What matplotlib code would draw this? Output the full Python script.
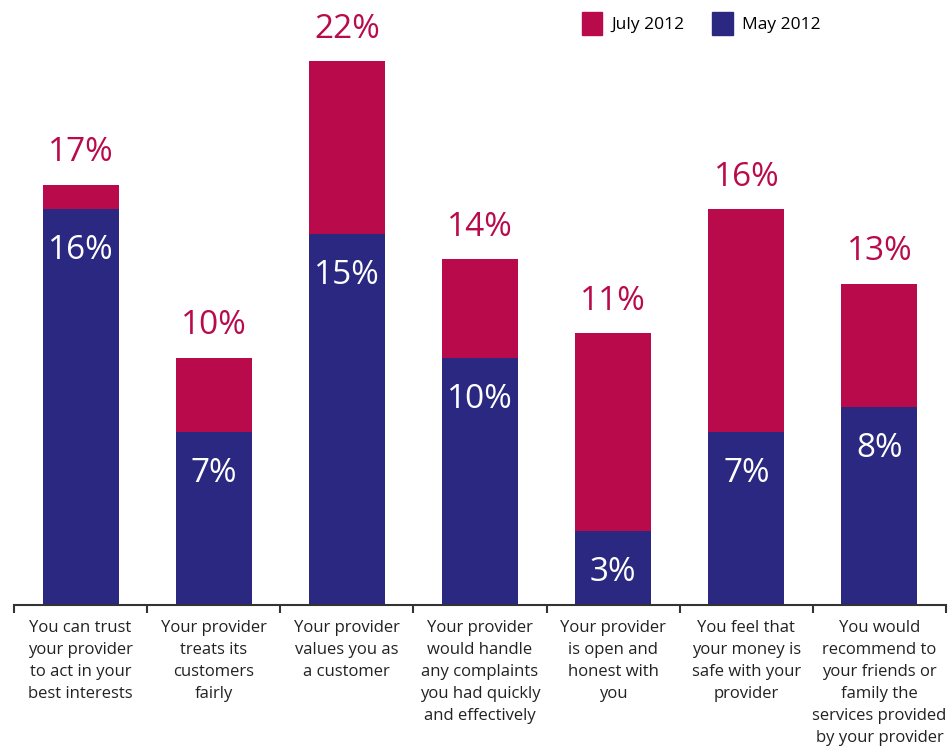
import matplotlib.pyplot as plt
from matplotlib.patches import Patch
import numpy as np

categories = [
    "You can trust\nyour provider\nto act in your\nbest interests",
    "Your provider\ntreats its\ncustomers\nfairly",
    "Your provider\nvalues you as\na customer",
    "Your provider\nwould handle\nany complaints\nyou had quickly\nand effectively",
    "Your provider\nis open and\nhonest with\nyou",
    "You feel that\nyour money is\nsafe with your\nprovider",
    "You would\nrecommend to\nyour friends or\nfamily the\nservices provided\nby your provider",
]
july_2012 = [17, 10, 22, 14, 11, 16, 13]
may_2012 = [16, 7, 15, 10, 3, 7, 8]

crimson = "#B90A4C"
navy = "#2A2880"
plt.rcParams['font.family'] = ['Open Sans', 'DejaVu Sans']

fig = plt.figure(figsize=(9.5, 7.49), dpi=100)
ax = fig.add_axes([14/950, 144/749, 932/950, 605/749])

x = np.arange(len(categories))
w = 0.57
ax.bar(x, july_2012, width=w, color=crimson, zorder=1)
ax.bar(x, may_2012, width=w, color=navy, zorder=2)

for xi, j, m in zip(x, july_2012, may_2012):
    ax.annotate(f"{j}%", (xi, j), xytext=(0, 11), textcoords='offset points',
                ha='center', va='bottom', color=crimson, fontsize=24)
    ax.annotate(f"{m}%", (xi, m), xytext=(0, -18), textcoords='offset points',
                ha='center', va='top', color='white', fontsize=24)

ax.set_xlim(-0.5, len(categories) - 0.5)
ax.set_ylim(0, 605/24.73)
ax.set_yticks([])
ax.set_xticks(x)
ax.set_xticklabels(categories, fontsize=12, color='#222222', linespacing=1.5,
                   multialignment='center', va='top')
ax.tick_params(axis='x', which='major', length=0, pad=11)
ax.set_xticks(np.arange(-0.5, len(categories)), minor=True)
ax.tick_params(axis='x', which='minor', length=6, width=1.5, color='#333333', direction='out')
for s in ['top', 'right', 'left']:
    ax.spines[s].set_visible(False)
ax.spines['bottom'].set_linewidth(1.5)
ax.spines['bottom'].set_color('#333333')

handles = [Patch(color=crimson, label='July 2012'), Patch(color=navy, label='May 2012')]
fig.legend(handles=handles, loc='upper left', bbox_to_anchor=(566/950, 1.005), ncol=2,
           frameon=False, fontsize=12.5, handlelength=1.2, handleheight=1.7,
           handletextpad=0.5, columnspacing=1.6)

fig.savefig("out.png", dpi=100)
